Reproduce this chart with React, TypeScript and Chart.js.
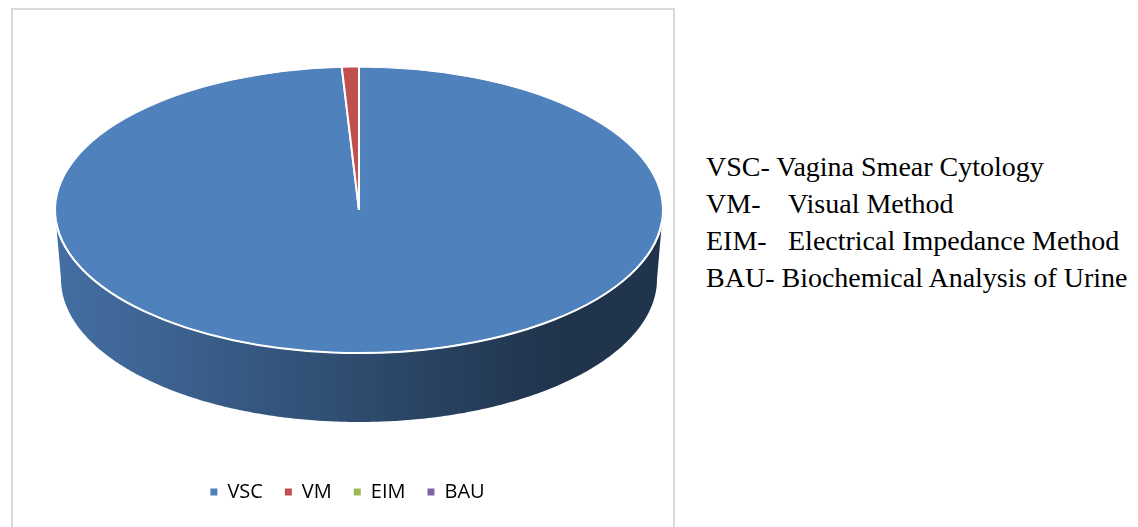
import React, { useEffect, useRef } from "react";
import { Chart, registerables } from "chart.js";

Chart.register(...registerables);

// Share of each oestrus-detection method (%)
const methods = ["VSC", "VM", "EIM", "BAU"];
const shares = [99.1, 0.9, 0, 0];
const sliceColors = ["#4f81bd", "#c0504d", "#9bbb59", "#8064a2"];
const methodNames = [
  "Vagina Smear Cytology",
  "Visual Method",
  "Electrical Impedance Method",
  "Biochemical Analysis of Urine",
];

// Tilted-disc geometry in canvas pixels
const DISC = { cx: 346, cy: 200, rx: 304, ry: 143, depth: 69, baseRx: 298 };

function shade(hex: string, f: number): string {
  const n = parseInt(hex.slice(1), 16);
  const r = Math.round(((n >> 16) & 255) * f);
  const g = Math.round(((n >> 8) & 255) * f);
  const b = Math.round((n & 255) * f);
  return `rgb(${r},${g},${b})`;
}

// Portions of an arc [s, e] that fall on the front (lower) half of the disc
function frontRange(s: number, e: number): [number, number][] {
  const out: [number, number][] = [];
  for (const k of [-2, 0, 2]) {
    const lo = Math.max(s, k * Math.PI);
    const hi = Math.min(e, k * Math.PI + Math.PI);
    if (hi > lo) out.push([lo - k * Math.PI, hi - k * Math.PI]);
  }
  return out;
}

const discPlugin = {
  id: "disc3d",
  beforeDatasetsDraw(chart: any) {
    const meta = chart.getDatasetMeta(0);
    const arcs = meta.data;
    const ctx: CanvasRenderingContext2D = chart.ctx;
    ctx.save();
    if (!arcs.length) return;
    const { cx, cy, rx, ry, depth, baseRx } = DISC;
    // side wall
    arcs.forEach((arc: any, i: number) => {
      const { startAngle, endAngle } = arc.getProps(["startAngle", "endAngle"], true);
      frontRange(startAngle, endAngle).forEach(([a, b]) => {
        const steps = Math.max(2, Math.ceil((b - a) / 0.01));
        ctx.beginPath();
        for (let j = 0; j <= steps; j++) {
          const t = a + ((b - a) * j) / steps;
          ctx.lineTo(cx + rx * Math.cos(t), cy + ry * Math.sin(t));
        }
        for (let j = steps; j >= 0; j--) {
          const t = a + ((b - a) * j) / steps;
          ctx.lineTo(cx + baseRx * Math.cos(t), cy + depth + ry * Math.sin(t));
        }
        ctx.closePath();
        const base = sliceColors[i % sliceColors.length];
        const g = ctx.createLinearGradient(cx - rx, 0, cx + rx, 0);
        g.addColorStop(0, shade(base, 0.86));
        g.addColorStop(0.5, shade(base, 0.58));
        g.addColorStop(0.82, shade(base, 0.4));
        g.addColorStop(1, shade(base, 0.41));
        ctx.fillStyle = g;
        ctx.fill();
      });
    });
    // squash the pie into the top face ellipse
    const { x, y, outerRadius } = arcs[0].getProps(["x", "y", "outerRadius"], true);
    ctx.translate(cx, cy);
    ctx.scale(rx / outerRadius, ry / outerRadius);
    ctx.translate(-x, -y);
  },
  afterDatasetsDraw(chart: any) {
    const ctx: CanvasRenderingContext2D = chart.ctx;
    ctx.restore();
    const { cx, cy, rx, ry } = DISC;
    ctx.save();
    ctx.beginPath();
    ctx.ellipse(cx, cy, rx, ry, 0, 0.09, Math.PI - 0.09);
    ctx.strokeStyle = "#ffffff";
    ctx.lineWidth = 2;
    ctx.stroke();
    ctx.restore();
  },
};

function PieChart() {
  const ref = useRef<HTMLCanvasElement>(null);
  useEffect(() => {
    if (!ref.current) return;
    const chart = new Chart(ref.current, {
      type: "pie",
      data: {
        labels: methods,
        datasets: [
          {
            data: shares,
            backgroundColor: sliceColors,
            borderColor: "#ffffff",
            borderWidth: 1.5,
            clip: false as any,
          },
        ],
      },
      options: {
        animation: false,
        responsive: false,
        events: [],
        layout: { padding: { left: 9, bottom: 15 } },
        plugins: {
          tooltip: { enabled: false },
          legend: {
            position: "bottom",
            labels: {
              boxWidth: 7,
              boxHeight: 7,
              padding: 22,
              color: "#595959",
              font: { family: "'Open Sans'", size: 20 },
              generateLabels: () =>
                methods.map((m, i) => ({
                  text: m,
                  fillStyle: sliceColors[i],
                  strokeStyle: sliceColors[i],
                  lineWidth: 0,
                  hidden: false,
                  index: i,
                })),
            },
          },
        },
      },
      plugins: [discPlugin],
    });
    return () => chart.destroy();
  }, []);
  return <canvas ref={ref} width={660} height={517} style={{ position: "absolute", left: 13, top: 10 }} />;
}

export default function App() {
  return (
    <div
      style={{
        position: "fixed",
        left: 0,
        top: 0,
        width: 1138,
        height: 527,
        background: "#ffffff",
        overflow: "hidden",
      }}
    >
      <div
        style={{
          position: "absolute",
          left: 11,
          top: 8,
          width: 664,
          height: 540,
          boxSizing: "border-box",
          border: "2px solid #d9d9d9",
        }}
      />
      <PieChart />
      <div
        style={{
          position: "absolute",
          left: 706,
          top: 148,
          fontFamily: "'Liberation Serif', 'Times New Roman', serif",
          fontSize: 28,
          lineHeight: "37px",
          color: "#000",
          whiteSpace: "pre",
        }}
      >
        {methods.map((m, i) => (
          <div key={m} style={{ position: "relative", height: 37 }}>
            <span>{m}-</span>
            {i === 1 || i === 2 ? (
              <span style={{ position: "absolute", left: 82, top: 0 }}>{methodNames[i]}</span>
            ) : (
              <span> {methodNames[i]}</span>
            )}
          </div>
        ))}
      </div>
    </div>
  );
}
